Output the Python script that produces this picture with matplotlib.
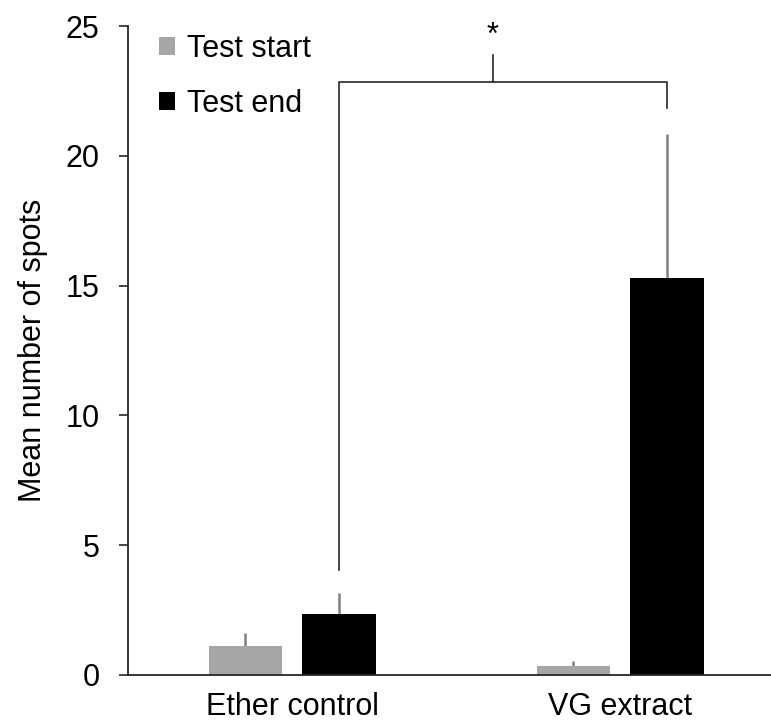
import numpy as np
import matplotlib
matplotlib.use("Agg")
import matplotlib.pyplot as plt
from matplotlib.patches import Patch

plt.rcParams['font.family'] = ['Liberation Sans', 'DejaVu Sans']

###############################################################################
# Data
###############################################################################
groups = ["Ether control", "VG extract"]
series = ["Test start", "Test end"]
start_mean = [1.12, 0.35]
start_err = [0.50, 0.19]
end_mean = [2.35, 15.29]
end_err = [0.81, 5.55]

bracket_y = 22.84
left_leg_low = 4.04
right_leg_low = 21.84
star_tick_top = 23.88

###############################################################################
# Figure
###############################################################################
fig = plt.figure(figsize=(7.71, 7.27), dpi=100)
ax = fig.add_axes([128 / 771, 1 - 675 / 727, 643 / 771, 649 / 727])

x = np.arange(len(groups))
width = 0.224
offset = 0.1425
line_col = "#262626"

ax.bar(x - offset, start_mean, width, color="#a6a6a6", label=series[0], zorder=2)
ax.bar(x + offset, end_mean, width, color="black", label=series[1], zorder=2)

# upper error bars only
ax.errorbar(x - offset, start_mean, yerr=[np.zeros(len(x)), start_err],
            fmt="none", ecolor="#808080", elinewidth=1.8, capsize=0, zorder=1)
ax.errorbar(x + offset, end_mean, yerr=[np.zeros(len(x)), end_err],
            fmt="none", ecolor="#808080", elinewidth=1.8, capsize=0, zorder=1)

# significance bracket
xl, xr = x[0] + offset, x[1] + offset
xm = 0.612
ax.plot([xl, xl, xr, xr], [left_leg_low, bracket_y, bracket_y, right_leg_low],
        color=line_col, lw=1.2, clip_on=False)
ax.plot([xm, xm], [bracket_y, star_tick_top], color=line_col, lw=1.2, clip_on=False)
ax.text(xm, 24.05, "*", ha="center", va="bottom", fontsize=22, clip_on=False)

ax.set_xlim(-0.5, 1.46)
ax.set_ylim(0, 25)
ax.set_yticks([0, 5, 10, 15, 20, 25])
ax.set_xticks(x)
ax.set_xticklabels(groups)

for side in ["top", "right"]:
    ax.spines[side].set_visible(False)
for side in ["left", "bottom"]:
    ax.spines[side].set_color(line_col)
    ax.spines[side].set_linewidth(1.3)

ax.tick_params(axis="y", direction="out", length=6.5, width=1.2, color=line_col,
               pad=14, labelsize=22)
ax.tick_params(axis="x", length=0, pad=12, labelsize=22)

ax.set_ylabel("Mean number of spots", fontsize=22)
ax.yaxis.set_label_coords(-0.125, 0.5)

handles = [Patch(facecolor="#a6a6a6", label=series[0]),
           Patch(facecolor="black", label=series[1])]
fig.legend(handles=handles, loc="upper left", bbox_to_anchor=(159 / 771, 1 - 34 / 727),
           frameon=False, fontsize=22, handlelength=0.52, handleheight=0.52,
           handletextpad=0.39, labelspacing=0.82, borderpad=0, borderaxespad=0)

plt.savefig("out.png", dpi=100)
